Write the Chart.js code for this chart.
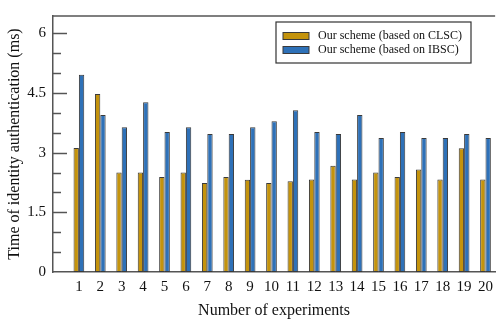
<!DOCTYPE html>
<html>
<head>
<meta charset="utf-8">
<script src="https://cdn.jsdelivr.net/npm/chart.js@4"></script>
<style>
  html, body { margin: 0; padding: 0; background: #fff; }
</style>
</head>
<body>
<canvas id="myChart" width="499" height="322"></canvas>
<script>
// Data
let experiments = [1, 2, 3, 4, 5, 6, 7, 8, 9, 10, 11, 12, 13, 14, 15, 16, 17, 18, 19, 20];
let clscTimes = [3.12, 4.48, 2.5, 2.5, 2.39, 2.5, 2.24, 2.39, 2.32, 2.24, 2.28, 2.33, 2.67, 2.33, 2.5, 2.39, 2.58, 2.33, 3.11, 2.33];
let ibscTimes = [4.96, 3.95, 3.64, 4.27, 3.52, 3.64, 3.47, 3.47, 3.64, 3.79, 4.07, 3.52, 3.47, 3.95, 3.37, 3.52, 3.37, 3.37, 3.47, 3.37];
let seriesNames = ['Our scheme (based on CLSC)', 'Our scheme (based on IBSC)'];
let seriesColors = ['#C4930C', '#2E71B8'];
let yTickLabels = [0, 1.5, 3, 4.5, 6];

const serif = 'Liberation Serif';
const axisColor = '#555';

// Inward y ticks, top frame line and boxed legend inside the plot
const framePlugin = {
    id: 'framePlugin',
    afterDraw(chart) {
        const ctx = chart.ctx;
        const area = chart.chartArea;
        const y = chart.scales.y;
        ctx.save();
        ctx.strokeStyle = axisColor;
        ctx.lineWidth = 1.5;
        ctx.beginPath();
        ctx.moveTo(area.left, area.top);
        ctx.lineTo(area.right, area.top);
        ctx.stroke();

        y.ticks.forEach(t => {
            if (t.value <= 0) return;
            let major = yTickLabels.some(v => Math.abs(v - t.value) < 1e-6);
            let py = Math.round(y.getPixelForValue(t.value)) + 0.5;
            ctx.beginPath();
            ctx.moveTo(area.left, py);
            ctx.lineTo(area.left + (major ? 14 : 8), py);
            ctx.stroke();
        });

        // legend box
        let bx = 276, by = 22, bw = 195, bh = 41;
        ctx.fillStyle = '#fff';
        ctx.fillRect(bx, by, bw, bh);
        ctx.strokeStyle = '#333';
        ctx.lineWidth = 1.2;
        ctx.strokeRect(bx, by, bw, bh);
        ctx.font = '12px "' + serif + '"';
        ctx.textBaseline = 'middle';
        seriesNames.forEach((name, i) => {
            let cy = by + 14 + i * 14;
            ctx.fillStyle = seriesColors[i];
            ctx.fillRect(bx + 7, cy - 3.5, 26, 7);
            ctx.strokeStyle = '#3a3a3a';
            ctx.lineWidth = 1;
            ctx.strokeRect(bx + 7, cy - 3.5, 26, 7);
            ctx.fillStyle = '#111';
            ctx.fillText(name, bx + 42, cy);
        });
        ctx.restore();
    }
};

function makeSeries(values) {
    return experiments.map((x, i) => ({ x: x, y: values[i] }));
}

let ctx = document.getElementById('myChart').getContext('2d');
let myChart = new Chart(ctx, {
    type: 'bar',
    data: {
        datasets: [{
            label: seriesNames[0],
            data: makeSeries(clscTimes),
            backgroundColor: seriesColors[0],
            borderColor: '#3a3a3a',
            borderWidth: 1,
            borderSkipped: false
        }, {
            label: seriesNames[1],
            data: makeSeries(ibscTimes),
            backgroundColor: seriesColors[1],
            borderColor: '#3a3a3a',
            borderWidth: 1,
            borderSkipped: false
        }]
    },
    options: {
        responsive: false,
        animation: false,
        categoryPercentage: 0.5,
        barPercentage: 1.0,
        layout: { padding: { left: 0, right: 0, top: 5, bottom: 0 } },
        plugins: {
            legend: { display: false },
            tooltip: { enabled: false }
        },
        scales: {
            x: {
                type: 'linear',
                offset: false,
                min: -0.21,
                max: 20.45,
                afterBuildTicks: (scale) => {
                    scale.ticks = experiments.map(v => ({ value: v }));
                },
                afterFit: (scale) => { scale.height = 50; },
                grid: { display: false, drawTicks: false, offset: false },
                border: { display: true, color: axisColor, width: 1.5 },
                ticks: {
                    autoSkip: false,
                    maxRotation: 0,
                    padding: 6,
                    color: '#111',
                    font: { family: serif, size: 15 },
                    callback: (v) => String(v)
                },
                title: {
                    display: true,
                    text: 'Number of experiments',
                    color: '#111',
                    font: { family: serif, size: 16 },
                    padding: { top: 0, bottom: 2 }
                }
            },
            y: {
                min: 0,
                max: 6.44,
                afterBuildTicks: (scale) => {
                    let ticks = [];
                    for (let v = 0; v <= 6; v += 0.5) ticks.push({ value: v });
                    scale.ticks = ticks;
                },
                afterFit: (scale) => { scale.width = 53; },
                grid: { display: false, drawTicks: false },
                border: { display: true, color: axisColor, width: 1.5 },
                ticks: {
                    autoSkip: false,
                    padding: 7,
                    color: '#111',
                    font: { family: serif, size: 15 },
                    callback: (v) => yTickLabels.some(t => Math.abs(t - v) < 1e-6) ? String(v) : ''
                },
                title: {
                    display: true,
                    text: 'Time of identity authentication (ms)',
                    color: '#111',
                    font: { family: serif, size: 16 },
                    padding: { top: 5, bottom: 0 }
                }
            }
        }
    },
    plugins: [framePlugin]
});
</script>
</body>
</html>
